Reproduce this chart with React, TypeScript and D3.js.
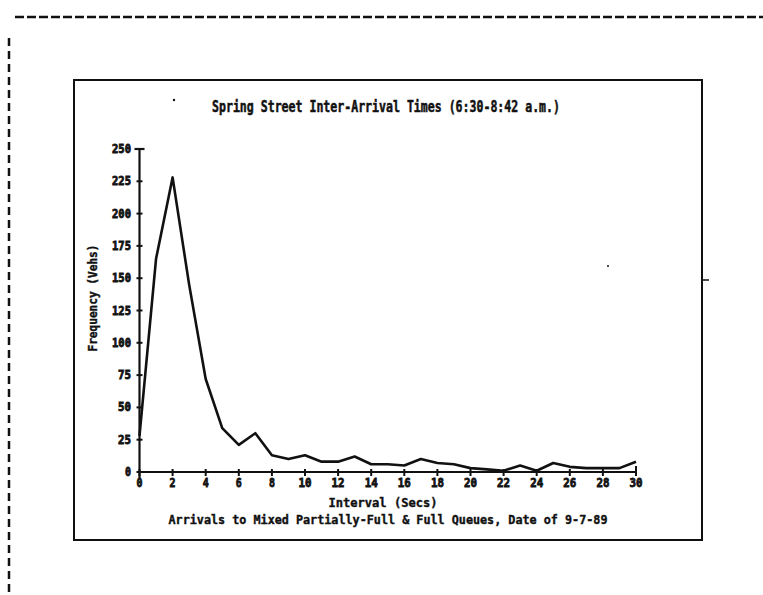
import React from "react";
import * as d3 from "d3";

const intervals = d3.range(0, 31);
const frequency = [28, 165, 228, 145, 72, 34, 21, 30, 13, 10, 13, 8, 8, 12, 6, 6, 5, 10, 7, 6, 3, 2, 1, 5, 1, 7, 4, 3, 3, 3, 8];
const xTicks = [0, 2, 4, 6, 8, 10, 12, 14, 16, 18, 20, 22, 24, 26, 28, 30];
const yTicks = [0, 25, 50, 75, 100, 125, 150, 175, 200, 225, 250];
const title = "Spring Street Inter-Arrival Times (6:30-8:42 a.m.)";
const yTitle = "Frequency (Vehs)";
const xTitle = "Interval (Secs)";
const subTitle = "Arrivals to Mixed Partially-Full & Full Queues,  Date of 9-7-89";

const FONT = "'DejaVu Sans Mono', monospace";
const INK = "#111";

export default function App() {
  const x = d3.scaleLinear().domain([0, 30]).range([139.5, 636]);
  const y = d3.scaleLinear().domain([0, 250]).range([472, 149]);
  const line = d3
    .line<number>()
    .x((_, i) => x(intervals[i]))
    .y((d) => y(d));

  const heavy = (w: number) => ({ stroke: INK, strokeWidth: w, fill: INK, paintOrder: "stroke" as const });

  return (
    <svg
      width={763}
      height={595}
      style={{ position: "absolute", left: 0, top: 0, background: "#fff" }}
    >
      {/* page dashed borders */}
      <line x1={15} x2={763} y1={17} y2={17} stroke={INK} strokeWidth={2.5} strokeDasharray="9 3" />
      <line x1={9} x2={9} y1={38} y2={592} stroke={INK} strokeWidth={2.5} strokeDasharray="8 5" />

      {/* frame */}
      <rect x={74} y={80} width={628} height={460} fill="none" stroke={INK} strokeWidth={2} />
      <line x1={702} x2={709} y1={280} y2={280} stroke={INK} strokeWidth={1.5} />
      <circle cx={174} cy={100} r={1.2} fill={INK} />
      <circle cx={608} cy={266} r={1} fill={INK} />

      {/* title */}
      <text x={386} y={112} textAnchor="middle" fontFamily={FONT} fontWeight="bold" fontSize={15}
        textLength={348} lengthAdjust="spacingAndGlyphs" {...heavy(0.5)}>
        {title}
      </text>

      {/* y axis */}
      <line x1={x(0)} x2={x(0)} y1={y(250)} y2={y(0) + 6} stroke={INK} strokeWidth={2.2} />
      <line x1={x(0) - 5} x2={x(0) + 5} y1={y(250)} y2={y(250)} stroke={INK} strokeWidth={2.2} />
      {yTicks.map((t) => (
        <g key={"y" + t}>
          {t !== 250 && t !== 0 && (
            <line x1={x(0) - 3} x2={x(0) + 3} y1={y(t)} y2={y(t)} stroke={INK} strokeWidth={2} />
          )}
          <text x={131} y={y(t) + 4} textAnchor="end" fontFamily={FONT} fontWeight="bold"
            fontSize={11.5} textLength={t >= 100 ? 19 : t === 0 ? 6 : 13}
            lengthAdjust="spacingAndGlyphs" {...heavy(0.8)}>
            {t}
          </text>
        </g>
      ))}

      {/* x axis */}
      <line x1={x(0) - 3} x2={x(30)} y1={y(0)} y2={y(0)} stroke={INK} strokeWidth={2.2} />
      {xTicks.map((t) => (
        <g key={"x" + t}>
          <line x1={x(t)} x2={x(t)} y1={y(0) - (t === 30 ? 6 : 3)} y2={y(0) + 4} stroke={INK} strokeWidth={2} />
          <text x={x(t)} y={487} textAnchor="middle" fontFamily={FONT} fontWeight="bold"
            fontSize={11.5} textLength={t >= 10 ? 13 : 6} lengthAdjust="spacingAndGlyphs" {...heavy(0.8)}>
            {t}
          </text>
        </g>
      ))}

      {/* data line */}
      <path d={line(frequency) || ""} fill="none" stroke={INK} strokeWidth={2.6} strokeLinejoin="round" />

      {/* axis titles */}
      <text transform="translate(97,298) rotate(-90)" textAnchor="middle" fontFamily={FONT}
        fontWeight="bold" fontSize={12} textLength={107} lengthAdjust="spacingAndGlyphs" {...heavy(0.4)}>
        {yTitle}
      </text>
      <text x={383} y={507} textAnchor="middle" fontFamily={FONT} fontWeight="bold" fontSize={13}
        textLength={109} lengthAdjust="spacingAndGlyphs" {...heavy(0.4)}>
        {xTitle}
      </text>
      <text x={388} y={524} textAnchor="middle" fontFamily={FONT} fontWeight="bold" fontSize={13}
        textLength={439} lengthAdjust="spacingAndGlyphs" {...heavy(0.4)}>
        {subTitle}
      </text>
    </svg>
  );
}
